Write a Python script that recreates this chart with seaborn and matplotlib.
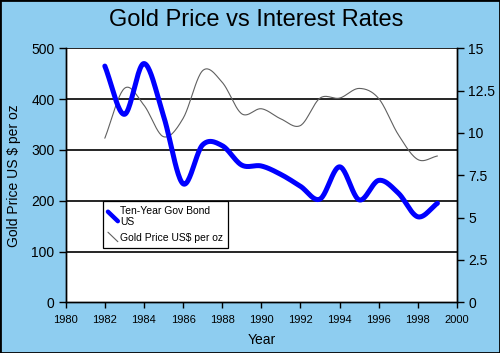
import numpy as np
import pandas as pd
import matplotlib
matplotlib.use("Agg")
import matplotlib.pyplot as plt
import seaborn as sns
from matplotlib.legend_handler import HandlerLine2D
from matplotlib.lines import Line2D

# ---- data ----
years = [1982, 1983, 1984, 1985, 1986, 1987, 1988, 1989, 1990,
         1991, 1992, 1993, 1994, 1995, 1996, 1997, 1998, 1999]
bond_yield = [13.95, 11.1, 14.1, 11.0, 7.0, 9.3, 9.25, 8.1, 8.05,
              7.55, 6.85, 6.1, 8.0, 6.05, 7.2, 6.45, 5.05, 5.85]
gold_price = [323, 421, 388, 326, 362, 456, 433, 371, 381,
              361, 348, 402, 402, 421, 401, 330, 281, 288]
bond_label = "Ten-Year Gov Bond\nUS"
gold_label = "Gold Price US$ per oz"
title = "Gold Price vs Interest Rates"
y_label = "Gold Price US $ per oz"
x_label = "Year"
x_ticks = list(range(1980, 2001, 2))
left_ticks = [0, 100, 200, 300, 400, 500]
right_ticks = [0, 2.5, 5, 7.5, 10, 12.5, 15]
right_tick_labels = ["0", "2.5", "5", "7.5", "10", "12.5", "15"]


def smooth(xs, ys, n=24):
    """Excel-like smoothed line (Catmull-Rom) through the given points."""
    P = np.column_stack([xs, ys]).astype(float)
    P = np.vstack([2 * P[0] - P[1], P, 2 * P[-1] - P[-2]])
    out = []
    for i in range(1, len(P) - 2):
        p0, p1, p2, p3 = P[i - 1], P[i], P[i + 1], P[i + 2]
        m1 = (p2 - p0) / 2
        m2 = (p3 - p1) / 2
        t = np.linspace(0, 1, n, endpoint=False)[:, None]
        h00 = 2 * t**3 - 3 * t**2 + 1
        h10 = t**3 - 2 * t**2 + t
        h01 = -2 * t**3 + 3 * t**2
        h11 = t**3 - t**2
        out.append(h00 * p1 + h10 * m1 + h01 * p2 + h11 * m2)
    out.append(P[-2][None, :])
    arr = np.vstack(out)
    return arr[:, 0], arr[:, 1]


class DiagHandler(HandlerLine2D):
    def create_artists(self, legend, orig_handle, xdescent, ydescent,
                       width, height, fontsize, trans):
        line = Line2D([-xdescent, -xdescent + width],
                      [-ydescent + height * 1.2, -ydescent - height * 0.1])
        self.update_prop(line, orig_handle, legend)
        line.set_transform(trans)
        return [line]


sns.set_theme(style="white")
plt.rcParams["font.family"] = ["Liberation Sans", "DejaVu Sans"]
plt.rcParams.update({"text.color": "black", "axes.labelcolor": "black",
                     "xtick.color": "black", "ytick.color": "black"})

bg = "#8ECDF0"
fig = plt.figure(figsize=(5.0, 3.53), dpi=100, facecolor=bg)
ax = fig.add_axes([0.1314, 0.1436, 0.7826, 0.7196])
ax.set_facecolor("white")

gx, gy = smooth(years, gold_price)
bx, by = smooth(years, bond_yield)
gold_df = pd.DataFrame({"x": gx, "y": gy})
bond_df = pd.DataFrame({"x": bx, "y": by})

sns.lineplot(data=gold_df, x="x", y="y", ax=ax, sort=False, color="#606060",
             linewidth=0.8, legend=False)

ax.set_xlim(1980, 2000)
ax.set_ylim(0, 500)
ax.set_xticks(x_ticks)
ax.set_yticks(left_ticks)
for v in left_ticks[1:]:
    ax.axhline(v, color="black", linewidth=1.2, zorder=0.5)

ax2 = ax.twinx()
sns.lineplot(data=bond_df, x="x", y="y", ax=ax2, sort=False, color="#0000FF",
             linewidth=3.6, legend=False)
ax2.set_ylim(0, 15)
ax2.set_yticks(right_ticks)
ax2.set_yticklabels(right_tick_labels)

for a in (ax, ax2):
    for s in a.spines.values():
        s.set_color("black")
        s.set_linewidth(1.0)
    a.spines["top"].set_visible(False)

ax.tick_params(axis="y", direction="out", length=5, width=1, color="black",
               labelcolor="black", labelsize=10, pad=3, left=True)
ax.tick_params(axis="x", direction="out", length=4, width=1, color="black",
               labelcolor="black", labelsize=8, pad=5, bottom=True)
ax2.tick_params(axis="y", direction="out", length=5, width=1, color="black",
                labelcolor="black", labelsize=10, pad=3, right=True)

ax.set_ylabel(y_label, fontsize=10, color="black")
ax.yaxis.set_label_coords(-0.115, 0.5)
ax.set_xlabel(x_label, fontsize=10, color="black")
ax.xaxis.set_label_coords(0.5, -0.12)
ax2.set_ylabel("")

fig.text(0.512, 0.943, title, ha="center", va="center", fontsize=17,
         color="black")

h1 = Line2D([], [], color="#0000FF", linewidth=3.2)
h2 = Line2D([], [], color="#606060", linewidth=0.8)
leg = ax2.legend([h1, h2], [bond_label, gold_label], loc="upper left",
                 bbox_to_anchor=(0.096, 0.399), borderaxespad=0,
                 fontsize=7.5, frameon=True, fancybox=False,
                 handler_map={Line2D: DiagHandler()}, handlelength=0.95,
                 handletextpad=0.2, borderpad=0.45, labelspacing=0.55)
for t in leg.get_texts():
    t.set_color("black")
leg.get_frame().set_edgecolor("black")
leg.get_frame().set_linewidth(0.9)
leg.get_frame().set_facecolor("white")
leg.get_frame().set_alpha(1)

fig.patches.append(plt.Rectangle((0, 0), 1, 1, transform=fig.transFigure,
                                 fill=False, edgecolor="black", linewidth=2))

fig.savefig("out.png", dpi=100, facecolor=bg)
